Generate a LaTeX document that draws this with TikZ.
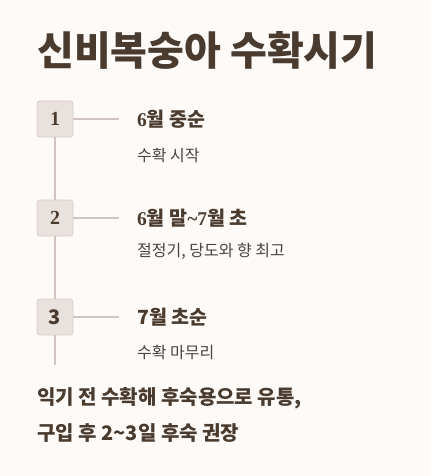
\documentclass[tikz,border=0pt]{standalone}
\usepackage{fontspec}
\setmainfont{Noto Sans CJK KR}
\newfontfamily\dig[BoldFont={Liberation Serif Bold}]{Liberation Serif}
\definecolor{bg}{HTML}{FDFAF8}
\definecolor{ink}{HTML}{4A3B2E}
\definecolor{sub}{HTML}{4A4442}
\definecolor{boxfill}{HTML}{E9E1DE}
\definecolor{boxline}{HTML}{D9CDC9}
\definecolor{rule}{HTML}{CFC4C0}
\tikzset{
  numbox/.style={draw=boxline, fill=boxfill, rounded corners=3pt, minimum width=36pt, minimum height=36pt, inner sep=0pt, line width=0.8pt, text=ink, font=\fontsize{20}{20}\selectfont\bfseries},
  conn/.style={draw=rule, line width=1.3pt},
  head/.style={anchor=west, inner sep=0pt, text=ink, font=\fontsize{19.5}{22}\selectfont\bfseries},
  subt/.style={anchor=west, inner sep=0pt, text=sub, font=\fontsize{16}{18}\selectfont},
  note/.style={anchor=west, inner sep=0pt, text=ink, font=\fontsize{20}{22}\selectfont\bfseries},
}
\begin{document}
\begin{tikzpicture}[x=1pt,y=-1pt]
\fill[bg] (0,0) rectangle (431,476);
\useasboundingbox (0,0) rectangle (431,476);
\node[anchor=west, inner sep=0pt, text=ink, font=\fontsize{40}{44}\selectfont\bfseries] (title) at (37,50) {신비복숭아 수확시기};
\node[numbox] (b1) at (55,119) {\dig\bfseries 1};
\node[numbox] (b2) at (55,218) {\dig\bfseries 2};
\node[numbox] (b3) at (55,317) {3};
\coordinate (e1) at (119,119);
\coordinate (e2) at (119,218);
\coordinate (e3) at (119,317);
\coordinate (vend) at (55,365);
\draw[conn] (b1.south) -- (b2.north);
\draw[conn] (b2.south) -- (b3.north);
\draw[conn] (b3.south) -- (vend);
\draw[conn] (b1.east) -- (e1);
\draw[conn] (b2.east) -- (e2);
\draw[conn] (b3.east) -- (e3);
\node[head] (h1) at (137,119) {{\dig\bfseries 6}월 중순};
\node[subt] (s1) at (137,155) {수확 시작};
\node[head] (h2) at (137,218) {{\dig\bfseries 6}월 말{\dig\bfseries\textasciitilde 7}월 초};
\node[subt] (s2) at (137,251) {절정기, 당도와 향 최고};
\node[head] (h3) at (137,317) {7월 초순};
\node[subt] (s3) at (137,352) {수확 마무리};
\node[note] (n1) at (37,398) {익기 전 수확해 후숙용으로 유통,};
\node[note] (n2) at (37,433) {구입 후 2\textasciitilde 3일 후숙 권장};
\end{tikzpicture}
\end{document}
